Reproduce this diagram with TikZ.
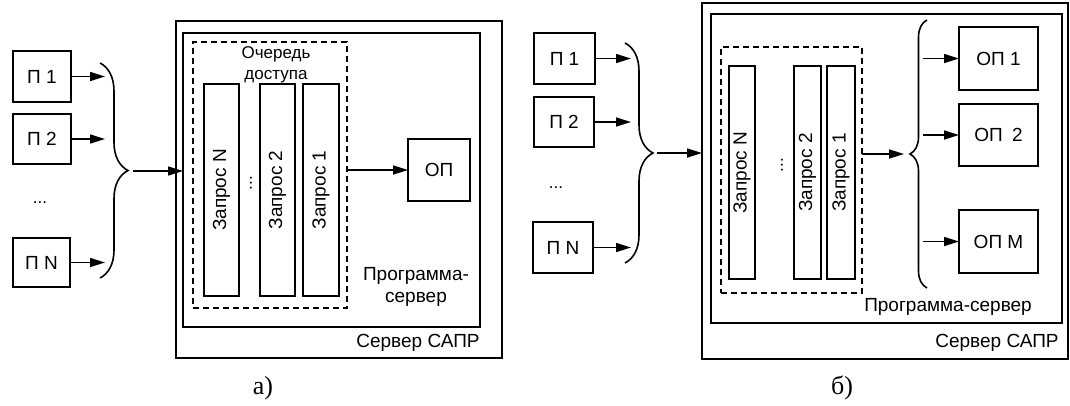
\documentclass[tikz,border=0pt]{standalone}
\usepackage{fontspec}
\setmainfont{Liberation Sans}
\newfontfamily\myserif{Liberation Serif}
\usetikzlibrary{arrows.meta,decorations.pathreplacing}
\newcommand\mylbl{\fontsize{19}{22}\selectfont}
\newcommand\mysmall{\fontsize{17}{21}\selectfont}
\begin{document}
\begin{tikzpicture}[x=1pt,y=-1pt,
  box/.style={draw, line width=1.8pt, inner sep=0pt, outer sep=0pt, font=\mylbl},
  dbox/.style={draw, dash pattern=on 6pt off 4pt, line width=1.4pt, inner sep=0pt, outer sep=0pt},
  qbox/.style={draw, line width=1.8pt, inner sep=0pt, outer sep=0pt},
  qtext/.style={rotate=90, font=\mylbl, inner sep=0pt},
  arr/.style={-{Triangle[length=15pt,width=9pt]}, line width=1.6pt},
  brc/.style={decorate, decoration={brace, amplitude=#1}, line width=1.6pt},
  txt/.style={font=\mylbl, inner sep=0pt, align=center},
  figcap/.style={font=\myserif\fontsize{26}{29}\selectfont, inner sep=0pt}]
\useasboundingbox (0,0) rectangle (1070,405);

% ===== a) =====
\node[box, minimum width=58pt, minimum height=51pt] (pa1) at (42,76.5) {П 1};
\node[box, minimum width=58pt, minimum height=50pt] (pa2) at (42,139) {П 2};
\node[txt, font=\mysmall] (pad) at (40,203) {...};
\node[box, minimum width=57pt, minimum height=49pt] (paN) at (41.5,262.5) {П N};
\coordinate (ba1) at (105,76.5);
\coordinate (ba2) at (105,139);
\coordinate (baN) at (105,262.5);
\draw[arr] (pa1.east) -- (ba1);
\draw[arr] (pa2.east) -- (ba2);
\draw[arr] (paN.east) -- (baN);
\coordinate (bat) at (100,63);
\coordinate (bab) at (100,278);
\draw[brc=28pt] (bat) -- (bab);
\coordinate (batip) at (133,171);

\node[box, minimum width=326pt, minimum height=337pt] (outA) at (339,189.5) {};
\node[box, minimum width=297pt, minimum height=294pt] (inA) at (331.5,180) {};
\node[dbox, minimum width=154pt, minimum height=266pt] (dqA) at (270,175) {};
\node[txt, font=\mysmall] (qlA) at (276,65) {Очередь\\доступа};
\node[qbox, minimum width=35pt, minimum height=212pt] (qAN) at (221.5,190) {};
\node[qbox, minimum width=35pt, minimum height=212pt] (qA2) at (277.5,190) {};
\node[qbox, minimum width=36pt, minimum height=212pt] (qA1) at (321,190) {};
\node[qtext] at (qAN) {Запрос N};
\node[qtext] at (qA2) {Запрос 2};
\node[qtext] at (qA1) {Запрос 1};
\node[qtext, font=\mysmall] (qAd) at (251,183) {...};
\draw[arr] (batip) -- (batip -| inA.west);
\node[box, minimum width=62pt, minimum height=62pt] (opA) at (439,170) {ОП};
\draw[arr] (dqA.east |- opA.west) -- (opA.west);
\node[txt] (psA) at (416,287) {Программа-\\сервер};
\node[txt] (srvA) at (418,343) {Сервер САПР};
\node[figcap] (capA) at (263,388) {а)};

% ===== b) =====
\node[box, minimum width=61pt, minimum height=51pt] (pb1) at (564.5,58.5) {П 1};
\node[box, minimum width=60pt, minimum height=50pt] (pb2) at (564,122) {П 2};
\node[txt, font=\mysmall] (pbd) at (556,188) {...};
\node[box, minimum width=60pt, minimum height=51pt] (pbN) at (563,247.5) {П N};
\coordinate (bb1) at (631,58.5);
\coordinate (bb2) at (631,122);
\coordinate (bbN) at (631,247.5);
\draw[arr] (pb1.east) -- (bb1);
\draw[arr] (pb2.east) -- (bb2);
\draw[arr] (pbN.east) -- (bbN);
\coordinate (bbt) at (625,43);
\coordinate (bbb) at (625,263);
\draw[brc=28pt] (bbt) -- (bbb);
\coordinate (bbtip) at (657,153);

\node[box, minimum width=366pt, minimum height=356pt] (outB) at (885,181) {};
\node[box, minimum width=351pt, minimum height=309pt] (inB) at (886.5,168.5) {};
\draw[arr] (bbtip) -- (bbtip -| outB.west);
\node[dbox, minimum width=141pt, minimum height=246pt] (dqB) at (791.5,170) {};
\node[qbox, minimum width=26pt, minimum height=213pt] (qBN) at (742,172.5) {};
\node[qbox, minimum width=27pt, minimum height=213pt] (qB2) at (807.5,172.5) {};
\node[qbox, minimum width=28pt, minimum height=213pt] (qB1) at (841,172.5) {};
\node[qtext] at (qBN) {Запрос N};
\node[qtext] at (qB2) {Запрос 2};
\node[qtext] at (qB1) {Запрос 1};
\node[qtext, font=\mysmall] (qBd) at (782,165) {...};
\coordinate (bct) at (904,154);
\draw[arr] (dqB.east |- bct) -- (bct);
\coordinate (bcb) at (927,288);
\coordinate (bcu) at (927,20);
\draw[brc=17pt] (bcb) -- (bcu);
\node[box, minimum width=79pt, minimum height=63pt] (opB1) at (998.5,58.5) {ОП 1};
\node[box, minimum width=79pt, minimum height=62pt] (opB2) at (998.5,135) {ОП\enspace 2};
\node[box, minimum width=79pt, minimum height=63pt] (opBM) at (998.5,241.5) {ОП М};
\coordinate (sb1) at (923,58.5);
\coordinate (sb2) at (923,135);
\coordinate (sbM) at (923,241.5);
\draw[arr] (sb1) -- (opB1.west);
\draw[arr] (sb2) -- (opB2.west);
\draw[arr] (sbM) -- (opBM.west);
\node[txt] (psB) at (948,307) {Программа-сервер};
\node[txt] (srvB) at (997,343) {Сервер САПР};
\node[figcap] (capB) at (842,388) {б)};
\end{tikzpicture}
\end{document}
